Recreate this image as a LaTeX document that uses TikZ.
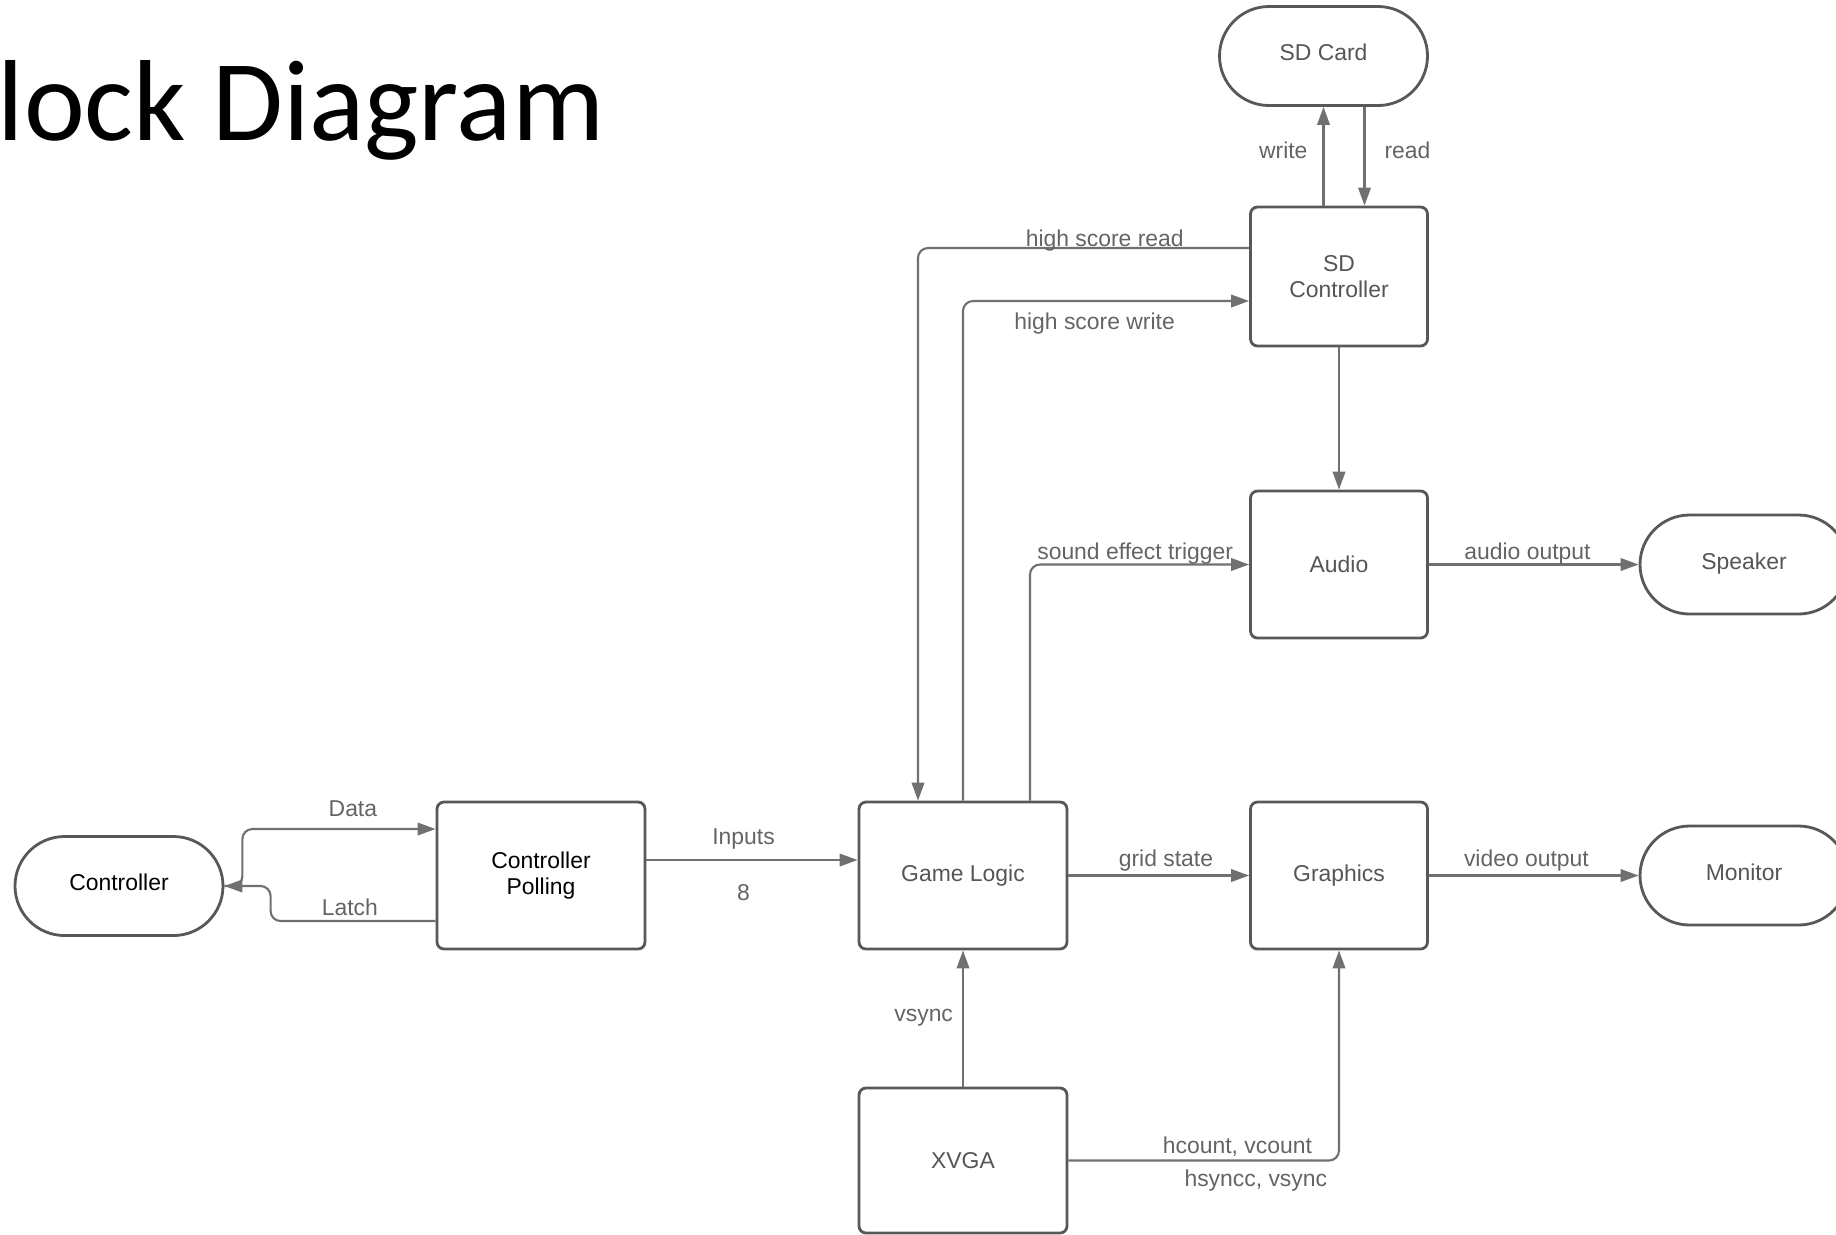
\documentclass[tikz,border=0pt]{standalone}
\usepackage{fontspec}
\setmainfont{Liberation Sans}
\newfontfamily\titlefont{Carlito}
\usepackage{tikz}
\usetikzlibrary{arrows.meta,shapes.misc,positioning}

\definecolor{boxgray}{RGB}{88,88,88}
\definecolor{linegray}{RGB}{112,112,112}
\definecolor{textgray}{RGB}{85,85,85}
\definecolor{siggray}{RGB}{100,100,100}

\begin{document}
\begin{tikzpicture}[
    node distance=4.22cm,
    >={Triangle[length=1.8mm,width=1.25mm]},
    font=\fontsize{6.52}{7.4}\selectfont,
    block/.style={
		rectangle,
		rounded corners=0.7mm,
		draw=boxgray,
		line width=0.8pt,
		text=textgray,
		align=center,
		inner sep=0pt,
		minimum width=2.08cm,
		minimum height=1.47cm
	},
	narrow/.style={
		minimum width=1.77cm
	},
	term/.style={
		rounded rectangle,
		draw=boxgray,
		line width=0.8pt,
		text=textgray,
		inner sep=0pt,
		text height=1.8mm,
		text depth=0.85mm,
		minimum width=2.08cm,
		minimum height=0.99cm
	},
	link/.style={
		draw=linegray,
		line width=0.6pt,
		rounded corners=1mm
	},
	sig/.style={
		text=siggray,
		inner sep=0pt
	}
  ]
  \useasboundingbox (0,0) rectangle (18.36,-12.34);

  % slide title
  \node [anchor=base west, inner sep=0pt, font=\titlefont\fontsize{32.8}{38}\selectfont] (title) at (-0.03,-1.40) {lock Diagram};

  % We start by placing the blocks
  \node [block] (game) at (9.63,-8.755) {Game Logic};
  \node [block, left of=game, text=black] (poll) {Controller\\Polling};
  \node [term, left of=poll, yshift=-0.105cm, text=black] (ctrl) {Controller};
  \node [block, narrow, right of=game, xshift=-0.46cm] (gfx) {Graphics};
  \node [term, right of=gfx, xshift=-0.17cm] (monitor) {Monitor};
  \node [block, narrow, above of=gfx, yshift=-1.11cm] (audio) {Audio};
  \node [term, right of=audio, xshift=-0.17cm] (speaker) {Speaker};
  \node [block, narrow, above of=audio, yshift=-1.34cm, minimum height=1.39cm] (sdctrl) {SD\\Controller};
  \node [term, above of=sdctrl, yshift=-2.015cm, xshift=-0.155cm] (sdcard) {SD Card};
  \node [block, below of=game, yshift=1.37cm, minimum height=1.45cm] (xvga) {XVGA};

  % controller side
  \draw [link,->] (ctrl.east) -- ++(0.18,0) |- node [sig, pos=0.786, anchor=base, yshift=1.3mm] {Data} ([yshift=4.65mm]poll.west);
  \draw [link,->] ([yshift=-4.55mm]poll.west) -- node [sig, pos=0.52, anchor=base, yshift=0.55mm] {Latch} ++(-1.65,0) |- (ctrl.east);
  \draw [link,->] ([yshift=1.55mm]poll.east) -- node [sig, pos=0.46, anchor=base, yshift=1.6mm] {Inputs} node [sig, pos=0.46, anchor=base, yshift=-4.0mm] {8} ([yshift=1.55mm]game.west);

  % outputs
  \draw [link,->] (game.east) -- node [sig, pos=0.54, anchor=base, yshift=0.9mm] {grid state} (gfx.west);
  \draw [link,->] (gfx.east) -- node [sig, pos=0.465, anchor=base, yshift=0.9mm] {video output} (monitor.west);
  \draw [link,->] (audio.east) -- node [sig, pos=0.47, anchor=base, yshift=0.5mm] {audio output} (speaker.west);
  \draw [link,->] ([xshift=6.7mm]game.north) |- node [sig, pos=0.74, anchor=base, yshift=0.5mm] {sound effect trigger} (audio.west);

  % high score
  \draw [link,->] (game.north) |- node [sig, pos=0.73, anchor=base, yshift=-2.8mm] {high score write} ([yshift=-2.45mm]sdctrl.west);
  \draw [link,->] ([yshift=2.85mm]sdctrl.west) -| node [sig, pos=0.218, anchor=base, yshift=0.15mm] {high score read} ([xshift=-4.5mm]game.north);
  \draw [link,->] (sdctrl.south) -- (audio.north);
  \draw [link,->] (sdctrl.north -| sdcard.south) -- node [sig, pos=0.475, anchor=base east, xshift=-1.5mm] {write} (sdcard.south);
  \draw [link,->] ([xshift=4.1mm]sdcard.south) -- node [sig, pos=0.525, anchor=base west, xshift=1.9mm] {read} ([xshift=4.1mm]sdcard.south |- sdctrl.north);

  % timing
  \draw [link,->] (xvga.north) -- node [sig, pos=0.475, anchor=base east, xshift=-0.9mm] {vsync} (game.south);
  \draw [link,->] (xvga.east) -| node [sig, pos=0.452, anchor=base east, yshift=0.75mm] {hcount, vcount} node [sig, pos=0.48, anchor=base east, yshift=-2.55mm] {hsyncc, vsync} (gfx.south);

\end{tikzpicture}
\end{document}
